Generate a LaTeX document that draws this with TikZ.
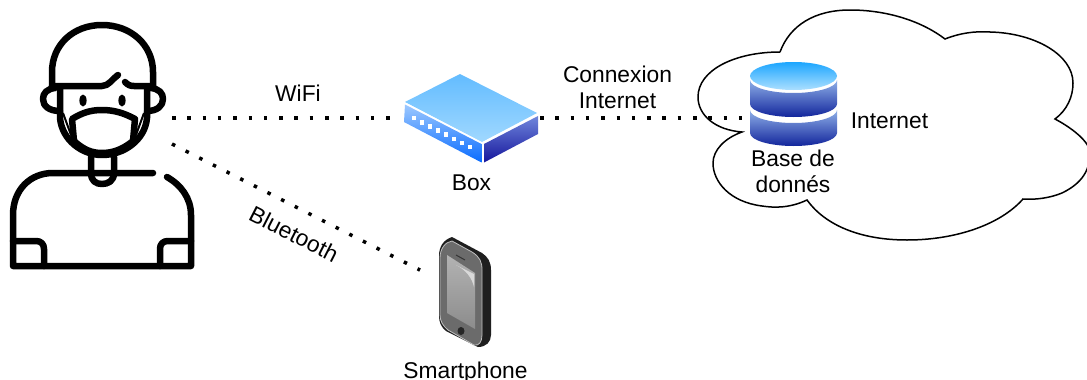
\documentclass[tikz,border=0pt]{standalone}
\usepackage{fontspec}
\setmainfont{Liberation Sans}
\tikzset{
  lbl/.style={inner sep=0pt,align=center,font=\fontsize{22.8}{26}\selectfont,text=black},
  link/.style={line width=3.5pt,dash pattern=on 3.5pt off 11.8pt,black},
  icon/.style={inner sep=0pt,outer sep=0pt,draw=none},
  ink/.style={line width=6.5pt,line cap=round,line join=round,black},
}
\definecolor{rtop}{HTML}{63BCFF}
\definecolor{rtopb}{HTML}{A0D8FF}
\definecolor{rleftA}{HTML}{9CC8FF}
\definecolor{rleftB}{HTML}{0A6CFF}
\definecolor{rrightA}{HTML}{6F86DC}
\definecolor{rrightB}{HTML}{16169C}
\definecolor{dbbandA}{HTML}{8FB0E8}
\definecolor{dbbandB}{HTML}{12259C}
\definecolor{dbtopA}{HTML}{1CA6FF}
\definecolor{dbtopB}{HTML}{ACDFFF}
\begin{document}
\begin{tikzpicture}[x=1pt,y=-1pt]
\useasboundingbox (0,0) rectangle (1087,380);
\fill[white] (0,0) rectangle (1087,380);
% invisible anchors
\node[icon,minimum width=160pt,minimum height=200pt] (person) at (92,118) {};
\node[icon,minimum width=150pt,minimum height=90pt] (router) at (465,118) {};
\node[icon,minimum width=91pt,minimum height=86pt] (db) at (793.5,118) {};
\node[icon,minimum width=90pt,minimum height=120pt] (phone) at (465,292) {};
% person
\draw[ink] (52,86) -- (52,72) .. controls (52,45) and (73,25) .. (102,25) .. controls (131,25) and (153,45) .. (153,72) -- (153,86);
\draw[ink] (52,86) -- (102,86) .. controls (109,86) and (112,79) .. (118,75);
\draw[ink] (125,82) .. controls (128,85) and (130,86) .. (134,86) -- (153,86);
\draw[ink] (55,88) .. controls (47,89) and (43,93) .. (43,99) .. controls (43,106) and (49,111) .. (60,111);
\draw[ink] (151,88) .. controls (159,89) and (163,93) .. (163,99) .. controls (163,106) and (157,111) .. (147,111);
\draw[ink] (60,87) -- (60,118) .. controls (62,140) and (82,155) .. (102,155) .. controls (124,155) and (145,140) .. (147,118) -- (147,87);
\fill (83,100.5) ellipse [x radius=3.6pt,y radius=6pt];
\fill (122,100.5) ellipse [x radius=3.6pt,y radius=6pt];
\draw[ink] (72,119) .. controls (82,113) and (90,110) .. (102,110) .. controls (114,110) and (124,113) .. (135,119) -- (133,141) .. controls (122,150) and (112,153) .. (102,153) .. controls (92,153) and (84,150) .. (74,141) -- cycle;
\draw[black,line width=2pt] (63,113) -- (71,135);
\draw[black,line width=2pt] (144,113) -- (136,135);
\draw[ink] (91,157) -- (91,173) .. controls (91,181) and (96,184) .. (102,184) .. controls (108,184) and (114,181) .. (114,173) -- (114,157);
\draw[ink] (153,173) -- (53,173) .. controls (30,173) and (13,190) .. (13,215) -- (13,266) -- (191,266) -- (191,215) .. controls (191,198) and (181,185) .. (167,177);
\draw[ink] (13,241) -- (36,241) .. controls (41,241) and (44,244) .. (44,249) -- (44,266);
\draw[ink] (191,241) -- (168,241) .. controls (163,241) and (160,244) .. (160,249) -- (160,266);
% cloud
\draw[black,line width=1.5pt,fill=white]
  (780,52) .. controls (790,25) and (815,10) .. (850,10)
  .. controls (885,10) and (920,20) .. (945,39)
  .. controls (960,33) and (975,31) .. (990,32)
  .. controls (1035,33) and (1073,55) .. (1073,83)
  .. controls (1073,97) and (1067,110) .. (1055,119)
  .. controls (1070,127) and (1083,137) .. (1088,146)
  .. controls (1093,165) and (1085,182) .. (1062,193)
  .. controls (1050,198) and (1035,200) .. (1023,199)
  .. controls (1000,225) and (955,240) .. (907,240)
  .. controls (860,240) and (825,225) .. (807,200)
  .. controls (790,208) and (775,208) .. (762,206)
  .. controls (730,202) and (713,182) .. (713,163)
  .. controls (713,150) and (725,138) .. (742,132)
  .. controls (715,130) and (698,115) .. (698,97)
  .. controls (698,70) and (735,52) .. (780,52);
% connectors
\draw[link] (person.east) -- (router.west);
\draw[link] (person.-18) -- (phone.154);
\draw[link] (router.east) -- (db.west);
% router
\shade[top color=rtop,bottom color=rtopb] (460,74) -- (537,113) -- (482,142) -- (405,102) -- cycle;
\shade[top color=rleftA,bottom color=rleftB] (405,104.5) -- (481.5,144) -- (481.5,162.5) -- (404,122) -- cycle;
\shade[top color=rrightA,bottom color=rrightB] (484,144) -- (538,116) -- (538,134) -- (484,162.5) -- cycle;
\draw[white,line width=1pt] (405,103) -- (482,143) -- (538,114);
\foreach \i in {0,...,7} {\fill[white] ({414+8*\i-2.2},{118+4.15*\i-2.2}) rectangle ++(4.4,4.6);}
% phone
\fill[black!88] (439,256) .. controls (439,247) and (443,240) .. (452,237) -- (482,253) .. controls (488,257) and (491,262) .. (491,270) -- (491,335) .. controls (491,342) and (486,347) .. (478,347) -- (446,331) .. controls (441,327) and (439,322) .. (439,316) -- cycle;
\fill[black!58,draw=black!25,line width=0.8pt] (440,258) .. controls (440,249) and (445,242) .. (452,241) -- (472,252) .. controls (480,257) and (482,262) .. (482,270) -- (482,335) .. controls (482,342) and (479,346) .. (474,345) -- (448,330) .. controls (443,326) and (440,321) .. (440,315) -- cycle;
\shade[top color=black!30,bottom color=black!45] (447,255) -- (475,273) -- (475,329) -- (447,313) -- cycle;
\fill[black!15] (456,265) -- (474,274) -- (474,287) .. controls (472,278) and (466,270) .. (456,265) -- cycle;
\fill[black!85] (461,331) ellipse [x radius=3.5pt,y radius=4pt];
\draw[black!80,line width=1pt] (456,255) -- (465,260);
% database
\shade[top color=dbbandA,bottom color=dbbandB] (750,80) .. controls (750,87.2) and (769.6,93) .. (793.5,93) .. controls (817.4,93) and (837,87.2) .. (837,80) -- (837,104) .. controls (837,111.2) and (817.4,117) .. (793.5,117) .. controls (769.6,117) and (750,111.2) .. (750,104) -- cycle;
\shade[top color=dbbandA,bottom color=dbbandB] (750,110) .. controls (750,117.2) and (769.6,123) .. (793.5,123) .. controls (817.4,123) and (837,117.2) .. (837,110) -- (837,133) .. controls (837,140.2) and (817.4,146) .. (793.5,146) .. controls (769.6,146) and (750,140.2) .. (750,133) -- cycle;
\shade[top color=dbtopA,bottom color=dbtopB] (793.5,76) ellipse [x radius=43.5pt,y radius=14pt];
% labels
\node[lbl] (wifi) at (298,93.5) {WiFi};
\node[lbl] (cnx) at (617.5,87.5) {Connexion\\Internet};
\node[lbl] (boxl) at (471.5,183) {Box};
\node[lbl,rotate=-27] (bt) at (294,234) {Bluetooth};
\node[lbl] (inet) at (889.5,121) {Internet};
\node[lbl] (base) at (793,171.5) {Base de\\donnés};
\node[lbl] (sp) at (465.5,373) {Smartphone};
\end{tikzpicture}
\end{document}
